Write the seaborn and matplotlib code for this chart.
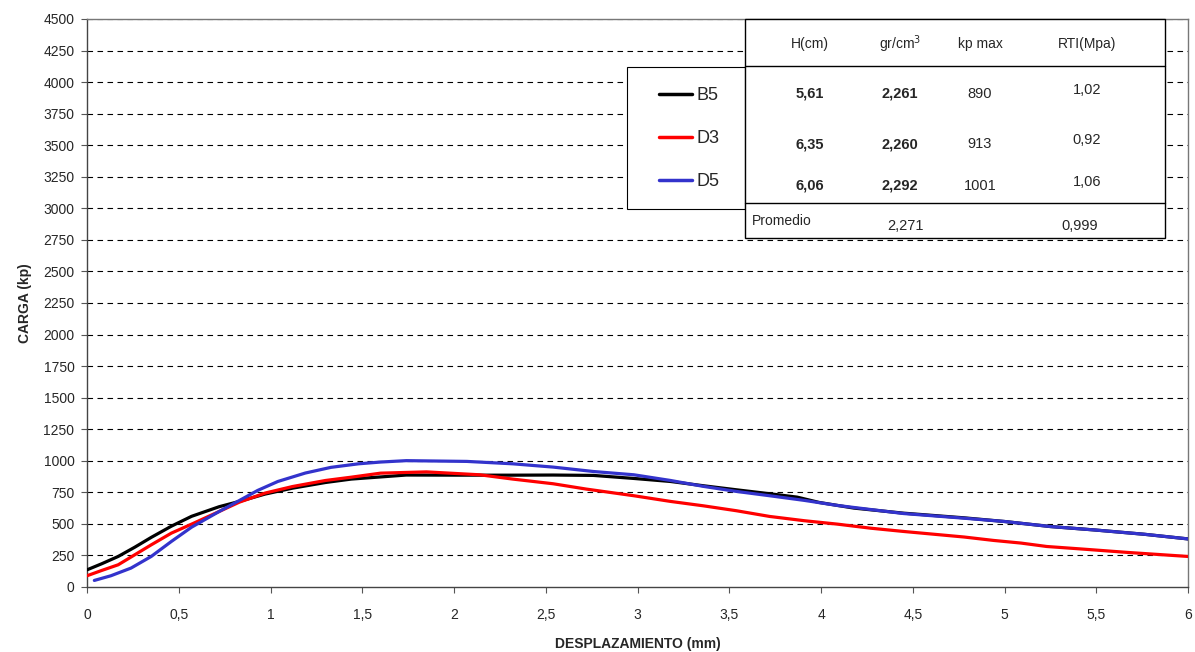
import numpy as np
import pandas as pd
import matplotlib
matplotlib.use('Agg')
import matplotlib.pyplot as plt
from matplotlib.patches import Rectangle
from matplotlib.lines import Line2D
import seaborn as sns

# Curvas carga-desplazamiento
desp_b5 = [0.0, 0.08, 0.17, 0.26, 0.35, 0.46, 0.57, 0.72, 0.83, 0.97, 1.12, 1.30, 1.44, 1.60, 1.74, 2.03,
           2.32, 2.54, 2.76, 2.98, 3.18, 3.36, 3.54, 3.72, 3.87, 3.99, 4.18, 4.45, 4.78, 5.0, 5.25, 5.49, 5.76, 6.0]
carga_b5 = [136, 184, 242, 315, 393, 482, 560, 636, 678, 736, 783, 828, 855, 872, 887, 886,
            886, 887, 884, 860, 836, 802, 770, 739, 712, 670, 625, 585, 548, 519, 479, 452, 418, 381]

desp_d3 = [0.0, 0.08, 0.17, 0.26, 0.35, 0.46, 0.57, 0.72, 0.83, 0.97, 1.12, 1.30, 1.44, 1.60, 1.85, 2.14,
           2.32, 2.54, 2.72, 2.98, 3.18, 3.36, 3.54, 3.72, 3.91, 4.09, 4.27, 4.45, 4.78, 4.94, 5.09, 5.23,
           5.43, 5.67, 6.0]
carga_d3 = [89, 131, 176, 255, 334, 427, 498, 598, 672, 744, 796, 844, 870, 902, 912, 889,
            855, 818, 776, 723, 678, 643, 604, 559, 525, 498, 466, 440, 396, 369, 348, 321,
            300, 274, 242]

desp_d5 = [0.04, 0.13, 0.24, 0.35, 0.46, 0.57, 0.72, 0.83, 0.93, 1.04, 1.19, 1.33, 1.48, 1.60, 1.74, 2.07,
           2.32, 2.54, 2.76, 2.98, 3.18, 3.36, 3.54, 3.72, 3.91, 4.09, 4.45, 4.78, 5.0, 5.25, 5.49, 5.76, 6.0]
carga_d5 = [52, 89, 150, 242, 361, 474, 598, 685, 765, 836, 903, 948, 976, 990, 1001, 995,
            976, 950, 915, 889, 844, 797, 757, 723, 686, 646, 582, 545, 519, 479, 452, 418, 381]

probetas = ['B5', 'D3', 'D5']
colores = ['#000000', '#ff0000', '#3333cc']

# Tabla de resultados
cols_tabla = ['H(cm)', 'gr/cm$^3$', 'kp max', 'RTI(Mpa)']
altura = ['5,61', '6,35', '6,06']
densidad = ['2,261', '2,260', '2,292']
kp_max = ['890', '913', '1001']
rti = ['1,02', '0,92', '1,06']
prom_dens = '2,271'
prom_rti = '0,999'

y_ticks = list(range(0, 4501, 250))
x_ticks = [0, 0.5, 1, 1.5, 2, 2.5, 3, 3.5, 4, 4.5, 5, 5.5, 6]
x_labels = ['0', '0,5', '1', '1,5', '2', '2,5', '3', '3,5', '4', '4,5', '5', '5,5', '6']

df = pd.concat([
    pd.DataFrame({'desp': desp_b5, 'carga': carga_b5, 'probeta': 'B5'}),
    pd.DataFrame({'desp': desp_d3, 'carga': carga_d3, 'probeta': 'D3'}),
    pd.DataFrame({'desp': desp_d5, 'carga': carga_d5, 'probeta': 'D5'}),
])

sns.set_style('white')
plt.rcParams['font.family'] = ['Liberation Sans', 'DejaVu Sans']

W, H = 1195, 652
fig = plt.figure(figsize=(W / 100, H / 100), dpi=100)
ax = fig.add_axes([87 / W, 1 - 587 / H, (1188 - 87) / W, (587 - 19) / H])


def px(x, y):
    return x / W, 1 - y / H


sns.lineplot(data=df, x='desp', y='carga', hue='probeta', palette=dict(zip(probetas, colores)),
             linewidth=2.3, sort=False, estimator=None, ax=ax, legend=False, zorder=3)

ax.set_xlim(0, 6)
ax.set_ylim(0, 4500)
ax.set_xticks(x_ticks)
ax.set_xticklabels(x_labels)
ax.set_yticks(y_ticks)
for yv in y_ticks[1:]:
    ax.axhline(yv, color='black', lw=0.8, ls=(0, (5, 4)), zorder=1)
ax.tick_params(axis='both', labelsize=10, length=4, direction='out', color='#555555')
ax.tick_params(axis='x', bottom=True, pad=11)
ax.tick_params(axis='y', left=True, pad=5)
for s in ax.spines.values():
    s.set_color('#777777')
    s.set_linewidth(1)
ax.spines['left'].set_color('#444444')
ax.spines['bottom'].set_color('#444444')
ax.set_xlabel('DESPLAZAMIENTO (mm)', fontsize=10, fontweight='bold', labelpad=11)
ax.set_ylabel('CARGA (kp)', fontsize=10, fontweight='bold', labelpad=8)

# Leyenda (caja propia)
x0, y0 = px(627, 209)
x1, y1 = px(745, 67)
fig.add_artist(Rectangle((x0, y0), x1 - x0, y1 - y0, facecolor='white', edgecolor='black', lw=0.8, zorder=5))
handles = [Line2D([], [], color=c, lw=2.5) for c in colores]
leg = fig.legend(handles, probetas, loc='upper left', bbox_to_anchor=px(650, 78), frameon=False,
                 fontsize=13, handlelength=1.85, handletextpad=0.25, labelspacing=1.45, borderpad=0)
leg.set_zorder(6)

# Tabla
tx0, ty0 = px(745, 238)
tx1, ty1 = px(1165, 19)
fig.add_artist(Rectangle((tx0, ty0), tx1 - tx0, ty1 - ty0, facecolor='white', edgecolor='black', lw=1.0, zorder=5))
for yl in [66, 203]:
    fig.add_artist(Line2D([tx0, tx1], [px(0, yl)[1]] * 2, color='black', lw=1.0, zorder=6))

col_x = [810, 900, 980, 1087]
for cx, t in zip(col_x, cols_tabla):
    fig.text(*px(cx, 44), t, ha='center', va='center', fontsize=10, zorder=7)
row_y = [94, 144, 186]
for i in range(3):
    fig.text(*px(col_x[0], row_y[i]), altura[i], ha='center', va='center', fontsize=10.5, fontweight='bold', zorder=7)
    fig.text(*px(col_x[1], row_y[i]), densidad[i], ha='center', va='center', fontsize=10.5, fontweight='bold', zorder=7)
    fig.text(*px(col_x[2], row_y[i]), kp_max[i], ha='center', va='center', fontsize=10.5, zorder=7)
    fig.text(*px(col_x[3], row_y[i] - 4), rti[i], ha='center', va='center', fontsize=10.5, zorder=7)
fig.text(*px(752, 221), 'Promedio', ha='left', va='center', fontsize=10, zorder=7)
fig.text(*px(905, 226), prom_dens, ha='center', va='center', fontsize=10.5, zorder=7)
fig.text(*px(1080, 226), prom_rti, ha='center', va='center', fontsize=10.5, zorder=7)

fig.savefig('out.png', dpi=100, facecolor='white')
